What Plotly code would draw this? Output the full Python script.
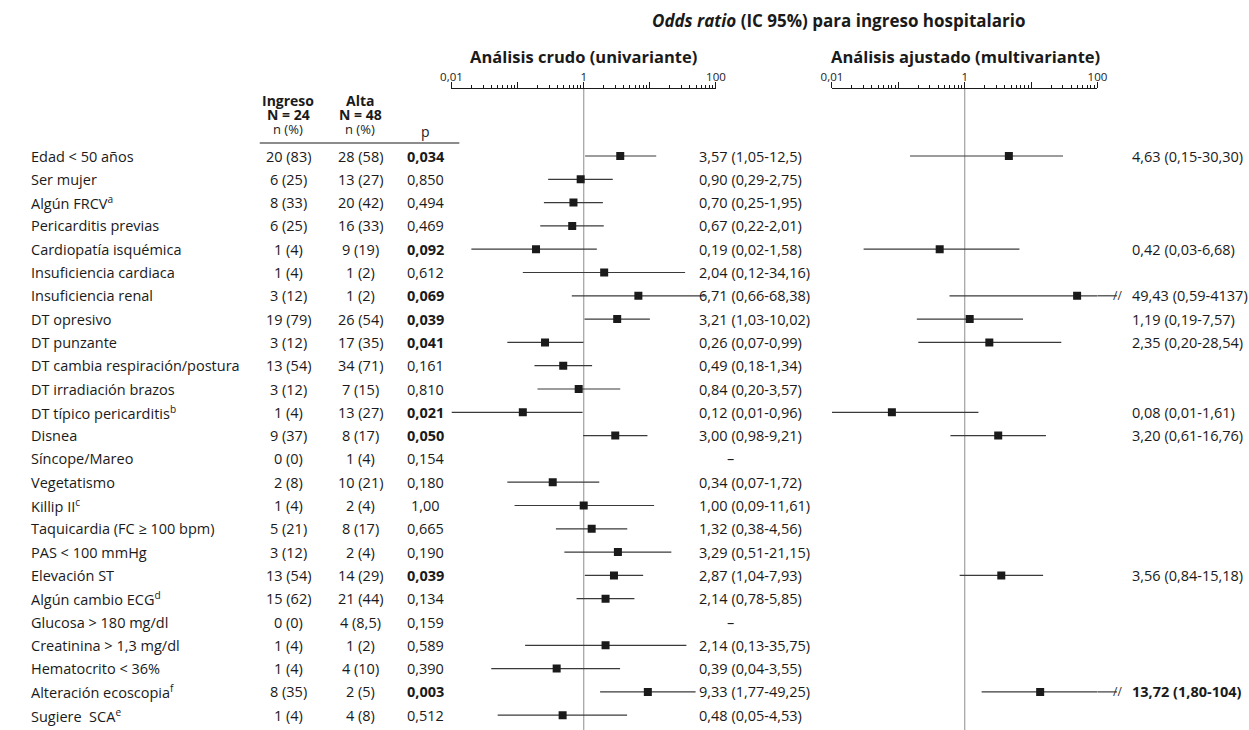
import math
import plotly.graph_objects as go

W, H = 1249, 730
FONT = "Open Sans"

labels = ["Edad &lt; 50 años", "Ser mujer", "Algún FRCV<sup>a</sup>", "Pericarditis previas",
          "Cardiopatía isquémica", "Insuficiencia cardiaca", "Insuficiencia renal", "DT opresivo",
          "DT punzante", "DT cambia respiración/postura", "DT irradiación brazos",
          "DT típico pericarditis<sup>b</sup>", "Disnea", "Síncope/Mareo", "Vegetatismo",
          "Killip II<sup>c</sup>", "Taquicardia (FC ≥ 100 bpm)", "PAS &lt; 100 mmHg", "Elevación ST",
          "Algún cambio ECG<sup>d</sup>", "Glucosa &gt; 180 mg/dl", "Creatinina &gt; 1,3 mg/dl",
          "Hematocrito &lt; 36%", "Alteración ecoscopia<sup>f</sup>", "Sugiere  SCA<sup>e</sup>"]

ingreso = ["20 (83)", "6 (25)", "8 (33)", "6 (25)", "1 (4)", "1 (4)", "3 (12)", "19 (79)", "3 (12)",
           "13 (54)", "3 (12)", "1 (4)", "9 (37)", "0 (0)", "2 (8)", "1 (4)", "5 (21)", "3 (12)",
           "13 (54)", "15 (62)", "0 (0)", "1 (4)", "1 (4)", "8 (35)", "1 (4)"]
alta = ["28 (58)", "13 (27)", "20 (42)", "16 (33)", "9 (19)", "1 (2)", "1 (2)", "26 (54)", "17 (35)",
        "34 (71)", "7 (15)", "13 (27)", "8 (17)", "1 (4)", "10 (21)", "2 (4)", "8 (17)", "2 (4)",
        "14 (29)", "21 (44)", "4 (8,5)", "1 (2)", "4 (10)", "2 (5)", "4 (8)"]
p_values = ["0,034", "0,850", "0,494", "0,469", "0,092", "0,612", "0,069", "0,039", "0,041", "0,161",
            "0,810", "0,021", "0,050", "0,154", "0,180", "1,00", "0,665", "0,190", "0,039", "0,134",
            "0,159", "0,589", "0,390", "0,003", "0,512"]
p_bold = [1, 0, 0, 0, 1, 0, 1, 1, 1, 0, 0, 1, 1, 0, 0, 0, 0, 0, 1, 0, 0, 0, 0, 1, 0]

crude_or = [3.57, 0.90, 0.70, 0.67, 0.19, 2.04, 6.71, 3.21, 0.26, 0.49, 0.84, 0.12, 3.00, None, 0.34,
            1.00, 1.32, 3.29, 2.87, 2.14, None, 2.14, 0.39, 9.33, 0.48]
crude_lo = [1.05, 0.29, 0.25, 0.22, 0.02, 0.12, 0.66, 1.03, 0.07, 0.18, 0.20, 0.01, 0.98, None, 0.07,
            0.09, 0.38, 0.51, 1.04, 0.78, None, 0.13, 0.04, 1.77, 0.05]
crude_hi = [12.5, 2.75, 1.95, 2.01, 1.58, 34.16, 68.38, 10.02, 0.99, 1.34, 3.57, 0.96, 9.21, None, 1.72,
            11.61, 4.56, 21.15, 7.93, 5.85, None, 35.75, 3.55, 49.25, 4.53]
crude_text = ["3,57 (1,05-12,5)", "0,90 (0,29-2,75)", "0,70 (0,25-1,95)", "0,67 (0,22-2,01)",
              "0,19 (0,02-1,58)", "2,04 (0,12-34,16)", "6,71 (0,66-68,38)", "3,21 (1,03-10,02)",
              "0,26 (0,07-0,99)", "0,49 (0,18-1,34)", "0,84 (0,20-3,57)", "0,12 (0,01-0,96)",
              "3,00 (0,98-9,21)", "–", "0,34 (0,07-1,72)", "1,00 (0,09-11,61)", "1,32 (0,38-4,56)",
              "3,29 (0,51-21,15)", "2,87 (1,04-7,93)", "2,14 (0,78-5,85)", "–", "2,14 (0,13-35,75)",
              "0,39 (0,04-3,55)", "9,33 (1,77-49,25)", "0,48 (0,05-4,53)"]

adj_rows = [0, 4, 6, 7, 8, 11, 12, 18, 23]
adj_or = [4.63, 0.42, 49.43, 1.19, 2.35, 0.08, 3.20, 3.56, 13.72]
adj_lo = [0.15, 0.03, 0.59, 0.19, 0.20, 0.01, 0.61, 0.84, 1.80]
adj_hi = [30.30, 6.68, 4137, 7.57, 28.54, 1.61, 16.76, 15.18, 104]
adj_text = ["4,63 (0,15-30,30)", "0,42 (0,03-6,68)", "49,43 (0,59-4137)", "1,19 (0,19-7,57)",
            "2,35 (0,20-28,54)", "0,08 (0,01-1,61)", "3,20 (0,61-16,76)", "3,56 (0,84-15,18)",
            "<b>13,72 (1,80-104)</b>"]

AX_MIN, AX_MAX = 0.01, 100
n = len(labels)

# ---- layout geometry (pixels) ----
ROW0, ROWSTEP = 156, 23.3
AXIS_Y = 89
CR_L, CR_R = 448, 717      # crude axis extent
AJ_L, AJ_R = 835, 1105     # adjusted axis extent
BREAK_PX = 20              # how far a cut interval runs past the axis end
CRUDE_X, ADJ_X = 698, 1138
y_top = (AXIS_Y - ROW0) / ROWSTEP
y_bot = (H - ROW0) / ROWSTEP


def px(x):
    return x / W


def py(y):
    return 1 - y / H


fig = go.Figure()

TXT = dict(family=FONT, size=14.5, color="#1a1a1a")
WHISK = dict(color="#3a3a3a", width=1.2)

# reference lines at OR = 1
for ax in ["x", "x2"]:
    fig.add_trace(go.Scatter(x=[1, 1], y=[y_top, y_bot], mode="lines", xaxis=ax, yaxis="y",
                             line=dict(color="#a8a8a8", width=1.3), hoverinfo="skip", showlegend=False))


def whiskers(rows, lo, hi, ax):
    xs, ys = [], []
    for r, a, b in zip(rows, lo, hi):
        if a is None:
            continue
        xs += [a, min(b, AX_MAX), None]
        ys += [r, r, None]
    fig.add_trace(go.Scatter(x=xs, y=ys, mode="lines", xaxis=ax, yaxis="y",
                             line=WHISK, hoverinfo="skip", showlegend=False))


def points(rows, vals, ax):
    xs = [v for v in vals if v is not None]
    ys = [r for r, v in zip(rows, vals) if v is not None]
    fig.add_trace(go.Scatter(x=xs, y=ys, mode="markers", xaxis=ax, yaxis="y",
                             marker=dict(symbol="square", size=8, color="#1a1a1a"),
                             hoverinfo="skip", showlegend=False))


rows_all = list(range(n))
whiskers(rows_all, crude_lo, crude_hi, "x")
points(rows_all, crude_or, "x")
whiskers(adj_rows, adj_lo, adj_hi, "x2")
points(adj_rows, adj_or, "x2")

ann = []
shapes = []
# intervals running past the axis: continue beyond the axis end, then a // break mark
brk = BREAK_PX / (AJ_R - AJ_L)
for r, b in zip(adj_rows, adj_hi):
    if b > AX_MAX:
        shapes.append(dict(type="line", xref="x2 domain", yref="y", x0=1, x1=1 + brk, y0=r, y1=r,
                           line=WHISK))
        ann.append(dict(x=1 + brk, y=r, xref="x2 domain", yref="y", text="//", showarrow=False,
                        xanchor="center", yanchor="middle",
                        font=dict(family=FONT, size=12, color="#333")))

# table columns
for i in range(n):
    ann.append(dict(x=px(18), y=i, xref="paper", yref="y", text=labels[i], showarrow=False,
                    xanchor="left", yanchor="middle", font=TXT))
    ann.append(dict(x=px(282), y=i, xref="paper", yref="y", text=ingreso[i], showarrow=False,
                    xanchor="center", yanchor="middle", font=TXT))
    ann.append(dict(x=px(355), y=i, xref="paper", yref="y", text=alta[i], showarrow=False,
                    xanchor="center", yanchor="middle", font=TXT))
    ptxt = f"<b>{p_values[i]}</b>" if p_bold[i] else p_values[i]
    ann.append(dict(x=px(422), y=i, xref="paper", yref="y", text=ptxt, showarrow=False,
                    xanchor="center", yanchor="middle", font=TXT))
    if crude_or[i] is None:
        ann.append(dict(x=px(CRUDE_X + 34), y=i, xref="paper", yref="y", text=crude_text[i],
                        showarrow=False, xanchor="center", yanchor="middle", font=TXT))
    else:
        ann.append(dict(x=px(CRUDE_X), y=i, xref="paper", yref="y", text=crude_text[i], showarrow=False,
                        xanchor="left", yanchor="middle", font=TXT))

for r, t in zip(adj_rows, adj_text):
    ann.append(dict(x=px(ADJ_X), y=r, xref="paper", yref="y", text=t, showarrow=False,
                    xanchor="left", yanchor="middle", font=TXT))

# headers
HB = dict(family=FONT, size=14, color="#1a1a1a")
for cx, name, nn in [(282, "Ingreso", "N = 24"), (355, "Alta", "N = 48")]:
    ann.append(dict(x=px(cx), y=py(100), xref="paper", yref="paper", text=f"<b>{name}</b>",
                    showarrow=False, xanchor="center", yanchor="middle", font=HB))
    ann.append(dict(x=px(cx), y=py(114.5), xref="paper", yref="paper", text=f"<b>{nn}</b>",
                    showarrow=False, xanchor="center", yanchor="middle", font=HB))
    ann.append(dict(x=px(cx), y=py(129), xref="paper", yref="paper", text="n (%)",
                    showarrow=False, xanchor="center", yanchor="middle",
                    font=dict(family=FONT, size=13, color="#1a1a1a")))
ann.append(dict(x=px(422), y=py(131), xref="paper", yref="paper", text="p", showarrow=False,
                xanchor="center", yanchor="middle", font=dict(family=FONT, size=14, color="#1a1a1a")))

ann.append(dict(x=px(842), y=py(20), xref="paper", yref="paper",
                text="<b><i>Odds ratio</i> (IC 95%) para ingreso hospitalario</b>", showarrow=False,
                xanchor="center", yanchor="middle", font=dict(family=FONT, size=17, color="#1a1a1a")))
ann.append(dict(x=px(582), y=py(56), xref="paper", yref="paper", text="<b>Análisis crudo (univariante)</b>",
                showarrow=False, xanchor="center", yanchor="middle",
                font=dict(family=FONT, size=16.5, color="#1a1a1a")))
ann.append(dict(x=px(971), y=py(56), xref="paper", yref="paper",
                text="<b>Análisis ajustado (multivariante)</b>", showarrow=False, xanchor="center",
                yanchor="middle", font=dict(family=FONT, size=16.5, color="#1a1a1a")))

shapes.append(dict(type="line", xref="paper", yref="paper", x0=px(253), x1=px(456), y0=py(143),
                   y1=py(143), line=dict(color="#1a1a1a", width=1)))

minor_vals = [m * 10 ** k for k in range(-2, 2) for m in range(2, 10)]
LABELED = [0.01, 1, 100]
UNLABELED = [0.1, 10]


def xaxis(domain):
    return dict(type="log", range=[math.log10(AX_MIN), math.log10(AX_MAX)], domain=domain,
                anchor="y", side="top", showline=True, linecolor="#1a1a1a", linewidth=1,
                tickmode="array", tickvals=LABELED, ticktext=["0,01", "1", "100"],
                ticks="outside", ticklen=6, tickcolor="#1a1a1a", tickwidth=1, ticklabelstandoff=-4,
                minor=dict(tickmode="array", tickvals=minor_vals, ticks="outside", ticklen=3,
                           tickcolor="#1a1a1a", showgrid=False),
                showgrid=False, zeroline=False, tickfont=dict(family=FONT, size=11.5, color="#1a1a1a"),
                fixedrange=True)


def xaxis_extra(over):
    return dict(type="log", range=[math.log10(AX_MIN), math.log10(AX_MAX)], overlaying=over,
                anchor="y", side="top", showline=False, tickmode="array", tickvals=UNLABELED,
                showticklabels=False, ticks="outside", ticklen=6, tickcolor="#1a1a1a", tickwidth=1,
                showgrid=False, zeroline=False, fixedrange=True)


fig.update_layout(
    width=W, height=H, margin=dict(l=0, r=0, t=0, b=0),
    paper_bgcolor="white", plot_bgcolor="white", showlegend=False,
    xaxis=xaxis([px(CR_L), px(CR_R)]),
    xaxis2=xaxis([px(AJ_L), px(AJ_R)]),
    xaxis3=xaxis_extra("x"),
    xaxis4=xaxis_extra("x2"),
    yaxis=dict(range=[y_bot, y_top], domain=[0, py(AXIS_Y)], visible=False, fixedrange=True),
    annotations=ann, shapes=shapes,
)
# the overlaying axes need a trace each to be drawn
for ax in ["x3", "x4"]:
    fig.add_trace(go.Scatter(x=[1], y=[y_top], mode="markers", xaxis=ax, yaxis="y",
                             marker=dict(size=1, opacity=0), hoverinfo="skip", showlegend=False))

fig.write_html("out.html", config={"displayModeBar": False},
               post_script="document.body.style.margin='0';document.body.style.overflow='hidden';")
